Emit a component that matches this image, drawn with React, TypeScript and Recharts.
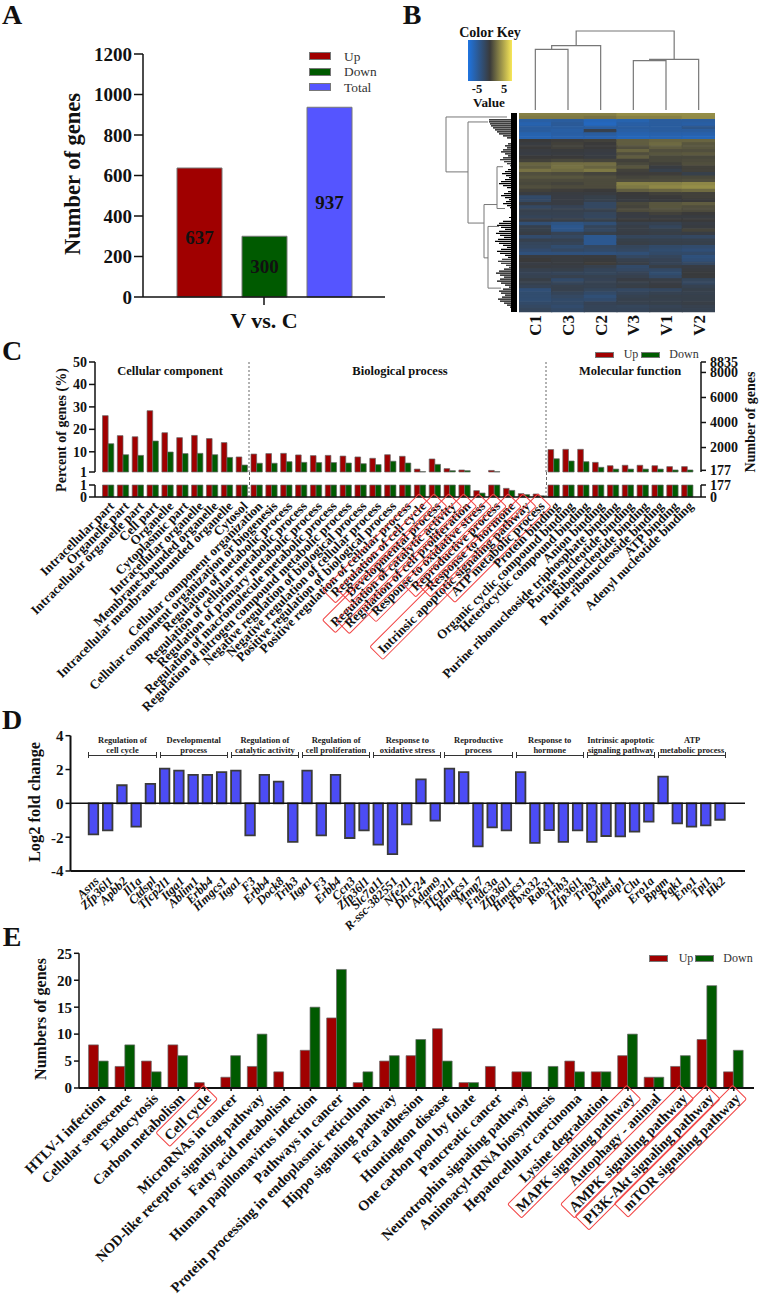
import React from 'react';
import {
  BarChart, Bar, Cell, ComposedChart, LabelList, LineChart, Line, XAxis, YAxis, ReferenceLine,
} from 'recharts';

const SERIF = '"Liberation Serif", "Times New Roman", serif';
const RED = '#a00000';
const GREEN = '#005a00';
const BLUE = '#5555ff';
const INK = '#111';

// Panel A
const summaryNames = ['V vs. C'];
const summaryUp = [637];
const summaryDown = [300];
const summaryTotal = [937];
const summaryTicks = [0, 200, 400, 600, 800, 1000, 1200];

// Panel B
const sampleNames = ['C1', 'C3', 'C2', 'V3', 'V1', 'V2'];
const heatValues = [
  [2, 2, 2, 2.4, 2.4, 2.4], [1.8, 1.8, 1.6, 2, 2, 2.3],
  [-3.2, -3, -3.8, -3.5, -3, -3], [-3.5, -2.8, -4, -3.2, -3, -3.2],
  [-3, -3, -3, -3, -3, -2.4], [-3, -3.2, -0.6, -3.2, -3, -3],
  [-3.5, -3.2, -3, -3.5, -3.4, -3.4], [-3.6, -3.4, -3.4, -3.8, -3.6, -3.8],
  [0, 0.1, 0.2, 1, 1.2, 1.2], [-0.2, 0.2, 0, 1, 1.4, 0.8],
  [0, 0.2, 0, 0.6, 1, 0.8], [-0.2, -0.1, -0.2, 1.2, 0.6, 0.6],
  [-0.3, -0.2, -0.3, 0.6, 0.8, 0.9], [0, 0, -0.2, 1, 0.4, 0.4],
  [0.2, 0.4, 0.3, 0.2, 0.4, 0.5], [1.2, 1.5, 1.5, 0.4, 0.2, 0.6],
  [1, 1.6, 1.2, 0.8, -0.2, 0.2], [1.6, 1.4, 1.8, 0.2, -0.5, 0.2],
  [0.6, 0.5, 0.3, 0.1, 0.1, -0.5], [0.8, 0.8, 0.6, 0.3, 0.4, 0.4],
  [0.5, 0.5, 0.5, 0.5, 0.5, 0.6], [0.4, 0.3, 0.5, 2, 2, 2.2],
  [0.6, 0.5, 0.5, 1.8, 2.2, 2.4], [0.2, 0.1, 0, 1, 1.2, 1.4],
  [-0.2, -0.2, -0.2, 0, 0.2, 0.2], [-1.4, -0.3, -0.5, -0.1, 0, 0.2],
  [-1.2, -0.3, -0.6, -0.2, -0.1, 0], [-0.3, -0.3, -1.2, 0.4, 0.8, 1],
  [-1.2, -0.8, -1.2, 0.3, 0.8, 0.6], [-0.6, -0.6, -0.6, 0.5, 0.6, 0.5],
  [-0.7, -0.7, -1, -0.2, 0.2, 0], [-0.9, -0.8, -1.1, -0.3, -0.2, -0.2],
  [-0.3, -0.4, -0.5, 0, 0, 0], [-1.8, -2.2, -1.8, -0.6, -0.7, -0.3],
  [-0.6, -2.5, -1, -0.4, -1, -0.2], [-0.5, -2.3, -1.2, -0.4, -0.5, 0.3],
  [-0.3, -0.8, -0.5, -0.3, -0.4, -0.3], [-1.5, -1.2, -2.6, -1, -1, -1.2],
  [-0.6, -0.7, -2.6, -0.5, -0.6, -0.6], [-1, -0.9, -2.6, -0.4, -0.5, -0.5],
  [-1.1, -1.6, -1.2, -1, -1.4, -1.5], [-1.5, -1.2, -1.4, -1.2, -1.6, -1.8],
  [-2, -2, -2, -1.8, -1.4, -1.4], [-0.2, -0.2, -0.2, -1.2, -1, -2],
  [0, -0.2, -0.1, -0.6, -0.8, -1.8], [-0.3, -0.2, 0.1, -0.4, -0.8, -1.2],
  [-0.2, -0.3, -0.6, -1.4, -0.4, -0.3], [-0.6, -0.5, -0.9, -1.2, -1.3, -0.2],
  [-0.8, -0.9, -1, -0.8, -1.6, -0.1], [-0.7, -0.6, -0.7, -0.6, -1.3, -0.1],
  [-0.4, -1.4, -0.8, -0.3, -0.4, -1], [-0.6, -0.9, -0.7, -0.5, -0.3, -1.1],
  [-0.8, -0.6, -0.7, -0.4, -0.2, -0.7], [-1.8, -0.6, -1, -1.2, -1.1, -0.5],
  [-1.6, -0.9, -1.4, -0.9, -0.7, -0.6], [-1.6, -1.2, -1.8, -0.7, -0.5, -0.5],
  [-1.7, -1.4, -1.5, -0.6, -0.6, -0.5], [-1.4, -1.3, -0.8, -0.6, -0.5, -0.4],
  [-1.2, -1.5, -0.9, -1, -0.8, -0.6], [-1, -1.3, -0.9, -0.9, -0.7, -0.7],
];
const columnTree = [
  [{ x: 0.5, h: 0 }, { x: 0.5, h: 60.6 }, { x: 1.5, h: 60.6 }, { x: 1.5, h: 0 }],
  [{ x: 1, h: 60.6 }, { x: 1, h: 64.3 }, { x: 2.5, h: 64.3 }, { x: 2.5, h: 0 }],
  [{ x: 3.5, h: 0 }, { x: 3.5, h: 49.3 }, { x: 4.5, h: 49.3 }, { x: 4.5, h: 0 }],
  [{ x: 4, h: 49.3 }, { x: 4, h: 50.6 }, { x: 5.5, h: 50.6 }, { x: 5.5, h: 0 }],
  [{ x: 1.75, h: 64.3 }, { x: 1.75, h: 79 }, { x: 4.75, h: 79 }, { x: 4.75, h: 50.6 }],
];
const rowTree = [
  [{ h: 10, r: 2 }, { h: 71, r: 2 }, { h: 71, r: 29.6 }, { h: 49, r: 29.6 }],
  [{ h: 29, r: 4.5 }, { h: 49, r: 4.5 }, { h: 49, r: 55.3 }, { h: 33, r: 55.3 }],
  [{ h: 20, r: 46 }, { h: 33, r: 46 }, { h: 33, r: 72.8 }, { h: 29, r: 72.8 }],
  [{ h: 14, r: 27 }, { h: 20, r: 27 }, { h: 20, r: 48 }, { h: 12, r: 48 }],
  [{ h: 18, r: 57 }, { h: 29, r: 57 }, { h: 29, r: 88 }, { h: 16, r: 88 }],
];
const rowTipDepth = [
  5, 5, 6, 28, 28, 27, 26, 24, 22, 20, 18, 14, 10, 6,
  6, 9, 12, 10, 14, 16, 12, 9, 14, 17, 13, 10, 7, 5, 9, 12, 15, 11, 8, 12, 16, 18, 14, 10, 6, 9,
  13, 16, 12, 8, 11, 14, 10, 7, 5, 6, 5, 4, 8, 6,
  14, 18, 20, 16, 12, 18, 21, 17, 13, 19, 22, 18, 14, 10, 16, 20, 17, 12, 9, 15, 19, 16, 11, 8,
  13, 18, 21, 17, 13, 17, 20, 16, 12, 8, 14, 18, 16, 12, 15, 19, 17, 13, 10, 7, 5, 4,
];

// Panel C
const goTerms = [
  'Intracellular part', 'Organelle part', 'Intracellular organelle part', 'Cell part', 'Organelle',
  'Cytoplasmic part', 'Intracellular organelle', 'Membrane-bounded organelle',
  'Intracellular membrane-bounded organelle', 'Cytosol',
  'Cellular component organization', 'Cellular component organization or biogenesis',
  'Regulation of metabolic process', 'Regulation of cellular metabolic process',
  'Regulation of primary metabolic process', 'Regulation of macromolecule metabolic process',
  'Regulation of nitrogen compound metabolic process', 'Negative regulation of biological process',
  'Negative regulation of cellular process', 'Positive regulation of biological process',
  'Positive regulation of cellular process', 'Regulation of cell cycle', 'Developmental process',
  'Regulation of catalytic activity', 'Regulation of cell proliferation', 'Response to oxidative stress',
  'Reproductive process', 'Response to hormone', 'Intrinsic apoptotic signaling pathway',
  'ATP metabolic process', 'Protein binding', 'Organic cyclic compound binding',
  'Heterocyclic compound binding', 'Anion binding', 'Purine ribonucleoside triphosphate binding',
  'Purine nucleotide binding', 'Ribonucleotide binding', 'Purine ribonucleoside binding',
  'ATP binding', 'Adenyl nucleotide binding',
];
const goUp = [
  26.1, 17.2, 16.7, 28.3, 18.5, 16.3, 17.3, 15.9, 14.1, 7.7,
  9, 9.2, 9.3, 8.6, 8.3, 8.4, 8.1, 7.7, 7.1, 8.7, 8, 2.3, 6.8, 2.5, 1.9, 0.53, 1.7, 0.72, 0.28, 0.25,
  11, 11.1, 11.1, 5.3, 3.8, 4, 4, 3.8, 3.4, 3.4,
];
const goDown = [
  13.6, 8.7, 8.4, 14.8, 9.9, 9.2, 9.3, 8.7, 7.5, 4.1,
  4.9, 4.9, 5.6, 5.3, 5.2, 5.2, 5, 4.7, 4.3, 5.8, 5, 1.15, 4.4, 1.6, 1.6, 0.33, 1.15, 0.55, 0.2, 0.1,
  6.9, 5.9, 5.6, 3.1, 2.3, 2.3, 2.3, 2.3, 1.9, 1.9,
];
const goBoxed = goTerms.slice(21, 30);
const percentTicksHigh = [1, 10, 20, 30, 40, 50];
const countTicksHigh = [177, 2000, 4000, 6000, 8000, 8835];
const GENES_PER_PERCENT = 176.7;

// Panel D
const geneNames = [
  'Asns', 'Zfp36l1', 'Apbb2', 'Il1a', 'Ctdspl',
  'Tfcp2l1', 'Itga1', 'Ablim1', 'Erbb4', 'Hmgcs1',
  'Itga1', 'F3', 'Erbb4', 'Dock8', 'Trib3',
  'Itga1', 'F3', 'Erbb4', 'Ccn3', 'Zfp36l1',
  'Slc7a11', 'R-ssc-382551', 'Nfe2l1', 'Dhcr24', 'Adam9',
  'Tfcp2l1', 'Hmgcs1', 'Mmp7', 'Fndc3a', 'Zfp36l1',
  'Hmgcs1', 'Fbxo32', 'Rab31', 'Trib3', 'Zfp36l1',
  'Trib3', 'Ddit4', 'Pmaip1', 'Clu', 'Ero1a',
  'Bpgm', 'Pgk1', 'Eno1', 'Tpi1', 'Hk2',
];
const geneFold = [
  -1.83, -1.6, 1.07, -1.38, 1.15,
  2.05, 1.93, 1.68, 1.68, 1.85,
  1.93, -1.89, 1.68, 1.28, -2.28,
  1.93, -1.89, 1.68, -2.05, -1.6,
  -2.44, -3, -1.24, 1.42, -1.02,
  2.05, 1.85, -2.54, -1.42, -1.6,
  1.85, -2.34, -1.58, -2.28, -1.6,
  -2.28, -1.93, -1.95, -1.67, -1.08,
  1.58, -1.18, -1.38, -1.3, -0.97,
];
const geneGroups = [
  ['Regulation of', 'cell cycle'], ['Developmental', 'process'], ['Regulation of', 'catalytic activity'],
  ['Regulation of', 'cell proliferation'], ['Response to', 'oxidative stress'], ['Reproductive', 'process'],
  ['Response to', 'hormone'], ['Intrinsic apoptotic', 'signaling pathway'], ['ATP', 'metabolic process'],
];
const foldTicks = [-4, -2, 0, 2, 4];

// Panel E
const pathwayNames = [
  'HTLV-I infection', 'Cellular senescence', 'Endocytosis', 'Carbon metabolism', 'Cell cycle',
  'MicroRNAs in cancer', 'NOD-like receptor signaling pathway', 'Fatty acid metabolism',
  'Human papillomavirus infection', 'Pathways in cancer', 'Protein processing in endoplasmic reticulum',
  'Hippo signaling pathway', 'Focal adhesion', 'Huntington disease', 'One carbon pool by folate',
  'Pancreatic cancer', 'Neurotrophin signaling pathway', 'Aminoacyl-tRNA biosynthesis',
  'Hepatocellular carcinoma', 'Lysine degradation', 'MAPK signaling pathway', 'Autophagy - animal',
  'AMPK signaling pathway', 'PI3K-Akt signaling pathway', 'mTOR signaling pathway',
];
const pathwayUp = [8, 4, 5, 8, 1, 2, 4, 3, 7, 13, 1, 5, 6, 11, 1, 4, 3, 0, 5, 3, 6, 2, 4, 9, 3];
const pathwayDown = [5, 8, 3, 6, 0, 6, 10, 0, 15, 22, 3, 6, 9, 5, 1, 0, 3, 4, 3, 3, 10, 2, 6, 19, 7];
const pathwayBoxed = ['Cell cycle', 'MAPK signaling pathway', 'AMPK signaling pathway', 'PI3K-Akt signaling pathway', 'mTOR signaling pathway'];
const pathwayTicks = [0, 5, 10, 15, 20, 25];

const summaryTable = summaryNames.map((name, i) => ({ name, up: summaryUp[i], down: summaryDown[i], total: summaryTotal[i] }));
const heatTable = heatValues.map((_, row) => ({ row, C1: 1, C3: 1, C2: 1, V3: 1, V1: 1, V2: 1 }));
const rowComb = rowTipDepth.flatMap((depth, i) => [{ h: 0, r: i + 0.5 }, { h: depth, r: i + 0.5 }, { h: 0, r: i + 0.5 }]);
// the hidden count line only ties the right axis to the same bars
const goHigh = goTerms.map((term, i) => ({
  term, up: goUp[i] >= 1 ? goUp[i] : null, down: goDown[i] >= 1 ? goDown[i] : null, count: goUp[i] * GENES_PER_PERCENT,
}));
const goLow = goTerms.map((term, i) => ({
  term, up: Math.min(goUp[i], 1), down: Math.min(goDown[i], 1), count: Math.min(goUp[i] * GENES_PER_PERCENT, 177),
}));
const geneTable = geneNames.map((gene, i) => ({ idx: i, gene, fold: geneFold[i] }));
const pathwayTable = pathwayNames.map((name, i) => ({ name, up: pathwayUp[i], down: pathwayDown[i] }));

function mix(a: number[], b: number[], t: number) {
  const c = a.map((v, i) => Math.round(v + (b[i] - v) * t));
  return `rgb(${c[0]},${c[1]},${c[2]})`;
}
function heatColor(v: number) {
  const mid = [58, 58, 58];
  return v < 0 ? mix(mid, [31, 116, 224], Math.min(-v / 5, 1)) : mix(mid, [248, 232, 88], Math.min(v / 5, 1));
}

const measureCanvas = document.createElement('canvas').getContext('2d');
function textWidth(text: string, font: string) {
  if (!measureCanvas) return text.length * 6;
  measureCanvas.font = font;
  return measureCanvas.measureText(text).width;
}

const AngledTick = ({ x, y, label, size, italic, boxed, dx = 4, dy = 5 }: any) => {
  const w = textWidth(label, `${italic ? 'italic ' : ''}bold ${size}px "Liberation Serif"`);
  return (
    <g transform={`translate(${x + dx},${y + dy}) rotate(-45)`}>
      {boxed && (
        <rect x={-w - 4} y={-size * 0.5 - 4} width={w + 8} height={size + 5} rx={1.5} fill="none" stroke="#f24545" strokeWidth={1} />
      )}
      <text textAnchor="end" dy={size * 0.32} fontFamily={SERIF} fontSize={size} fontWeight="bold" fontStyle={italic ? 'italic' : 'normal'} fill={INK}>
        {label}
      </text>
    </g>
  );
};

const SampleTick = ({ x, y, payload }: any) => (
  <g transform={`translate(${x + 6},${y + 3}) rotate(-90)`}>
    <text textAnchor="end" fontFamily={SERIF} fontSize={17} fontWeight="bold" fill={INK}>
      {sampleNames[Math.floor(payload.value)]}
    </text>
  </g>
);

const Txt = ({ x, y, size, bold, italic, rotate = 0, color = INK, children }: any) => (
  <div
    style={{
      position: 'absolute', left: x, top: y, fontSize: size, lineHeight: 1.15, color, whiteSpace: 'nowrap',
      fontWeight: bold ? 'bold' : 'normal', fontStyle: italic ? 'italic' : 'normal',
      transform: `translate(-50%,-50%) rotate(${rotate}deg)`,
    }}
  >
    {children}
  </div>
);

const Key = ({ x, y, w, h, color }: any) => (
  <div style={{ position: 'absolute', left: x, top: y, width: w, height: h, background: color, border: '1px solid #777', boxSizing: 'border-box' }} />
);

const Box = ({ left, top, children }: any) => <div style={{ position: 'absolute', left, top }}>{children}</div>;

const axisLine = { stroke: INK, strokeWidth: 1.5 };
const tickFont = (size: number) => ({ fontSize: size, fontWeight: 'bold', fontFamily: SERIF, fill: INK });

export default function App() {
  return (
    <div style={{ position: 'absolute', left: 0, top: 0, width: 759, height: 1295, background: '#fff', fontFamily: SERIF, overflow: 'hidden' }}>
      <Txt x={12} y={15} size={28} bold>A</Txt>
      <Txt x={412} y={15} size={28} bold>B</Txt>
      <Txt x={12} y={351} size={28} bold>C</Txt>
      <Txt x={12} y={720} size={28} bold>D</Txt>
      <Txt x={12} y={937} size={28} bold>E</Txt>

      {/* A: gene counts */}
      <Box left={0} top={0}>
        <BarChart width={390} height={335} data={summaryTable} margin={{ top: 54, right: 5, bottom: 0, left: 0 }} barSize={45} barGap={20}>
          <XAxis dataKey="name" height={38} axisLine={axisLine} tickLine={axisLine} tickSize={8} tick={{ ...tickFont(22), dy: 5 }} />
          <YAxis width={143} domain={[0, 1200]} ticks={summaryTicks} interval={0} axisLine={axisLine} tickLine={axisLine} tickSize={9} tickMargin={2} tick={tickFont(19)} />
          <Bar dataKey="up" fill={RED} stroke="#777" strokeWidth={1} isAnimationActive={false}>
            <LabelList dataKey="up" position="center" dy={5} fill={INK} fontFamily={SERIF} fontSize={19} fontWeight="bold" />
          </Bar>
          <Bar dataKey="down" fill={GREEN} stroke="#777" strokeWidth={1} isAnimationActive={false}>
            <LabelList dataKey="down" position="center" fill={INK} fontFamily={SERIF} fontSize={19} fontWeight="bold" />
          </Bar>
          <Bar dataKey="total" fill={BLUE} stroke="#777" strokeWidth={1} isAnimationActive={false}>
            <LabelList dataKey="total" position="center" fill={INK} fontFamily={SERIF} fontSize={19} fontWeight="bold" />
          </Bar>
        </BarChart>
      </Box>
      <Txt x={73} y={174} size={22.5} bold rotate={-90}>Number of genes</Txt>
      <Key x={309} y={52} w={22} h={8} color={RED} />
      <Key x={309} y={68} w={22} h={8} color={GREEN} />
      <Key x={309} y={83} w={22} h={8} color={BLUE} />
      <div style={{ position: 'absolute', left: 344, top: 49, fontSize: 13.4, lineHeight: '15.3px', color: '#333' }}>Up<br />Down<br />Total</div>

      {/* B: colour key, dendrograms, heat map */}
      <Txt x={490} y={33} size={14} bold>Color Key</Txt>
      <div style={{ position: 'absolute', left: 468, top: 40, width: 44, height: 41, background: 'linear-gradient(90deg,#1f74e0,#3a3a3a 50%,#f8e858)' }} />
      <Txt x={477} y={89} size={12.5} bold>-5</Txt>
      <Txt x={504} y={89} size={12.5} bold>5</Txt>
      <Txt x={489} y={103} size={13.2} bold>Value</Txt>

      <Box left={519} top={25}>
        <LineChart width={196} height={85} margin={{ top: 0, right: 0, bottom: 0, left: 0 }}>
          <XAxis type="number" dataKey="x" domain={[0, 6]} hide />
          <YAxis type="number" domain={[0, 85]} hide />
          {columnTree.map((seg, i) => (
            <Line key={i} data={seg} dataKey="h" stroke="#777" strokeWidth={1.2} dot={false} isAnimationActive={false} />
          ))}
        </LineChart>
      </Box>
      <Box left={445} top={113}>
        <LineChart width={72} height={199} margin={{ top: 0, right: 0, bottom: 0, left: 0 }}>
          <XAxis type="number" dataKey="h" domain={[0, 72]} reversed hide />
          <YAxis type="number" domain={[0, 100]} reversed hide />
          <Line data={rowComb} dataKey="r" stroke="#000" strokeWidth={1.2} dot={false} isAnimationActive={false} />
          <Line data={[{ h: 3, r: 0 }, { h: 3, r: 100 }]} dataKey="r" stroke="#000" strokeWidth={6} dot={false} isAnimationActive={false} />
          {rowTree.map((seg, i) => (
            <Line key={i} data={seg} dataKey="r" stroke="#777" strokeWidth={1} dot={false} isAnimationActive={false} />
          ))}
        </LineChart>
      </Box>
      <Box left={519} top={113}>
        <BarChart width={196} height={229} layout="vertical" data={heatTable} margin={{ top: 0, right: 0, bottom: 0, left: 0 }} barCategoryGap={0}>
          <XAxis type="number" domain={[0, 6]} ticks={[0.5, 1.5, 2.5, 3.5, 4.5, 5.5]} height={30} axisLine={false} tickLine={false} tickSize={0} tickMargin={0} tick={(p: any) => <SampleTick {...p} />} interval={0} />
          <YAxis type="category" dataKey="row" hide />
          {sampleNames.map((sample, col) => (
            <Bar key={sample} dataKey={sample} stackId="heat" isAnimationActive={false}>
              {heatValues.map((row, i) => (
                <Cell key={i} fill={heatColor(row[col])} stroke={heatColor(row[col])} strokeWidth={1.2} />
              ))}
            </Bar>
          ))}
        </BarChart>
      </Box>

      {/* C: GO terms, broken axis */}
      <Box left={0} top={340}>
        <ComposedChart width={759} height={150} data={goHigh} margin={{ top: 22, right: 0, bottom: 18, left: 0 }} barSize={5.65} barGap={0}>
          <XAxis dataKey="term" hide padding={{ left: 5.5, right: 6.5 }} />
          <YAxis yAxisId="left" width={95} domain={[1, 50]} ticks={percentTicksHigh} interval={0} axisLine={axisLine} tickLine={axisLine} tickSize={6} tickMargin={2} tick={tickFont(14)} />
          <YAxis yAxisId="right" orientation="right" width={58} domain={[177, 8835]} ticks={countTicksHigh} interval={0} axisLine={axisLine} tickLine={axisLine} tickSize={5} tickMargin={4} tick={tickFont(14)} />
          <Bar yAxisId="left" dataKey="up" fill={RED} stroke="#666" strokeWidth={0.7} isAnimationActive={false} />
          <Bar yAxisId="left" dataKey="down" fill={GREEN} stroke="#666" strokeWidth={0.7} isAnimationActive={false} />
          <Line yAxisId="right" dataKey="count" stroke="none" dot={false} activeDot={false} isAnimationActive={false} />
          <ReferenceLine yAxisId="left" x={goTerms[9]} position="end" stroke="#666" strokeDasharray="2 2" />
          <ReferenceLine yAxisId="left" x={goTerms[29]} position="end" stroke="#666" strokeDasharray="2 2" />
        </ComposedChart>
      </Box>
      <div style={{ position: 'absolute', left: 248.5, top: 472, height: 13, borderLeft: '1px dashed #666' }} />
      <div style={{ position: 'absolute', left: 545.5, top: 472, height: 13, borderLeft: '1px dashed #666' }} />
      <Box left={0} top={470}>
        <ComposedChart width={759} height={260} data={goLow} margin={{ top: 15, right: 0, bottom: 0, left: 0 }} barSize={5.65} barGap={0}>
          <XAxis
            dataKey="term" height={233} interval={0} padding={{ left: 5.5, right: 6.5 }} axisLine={axisLine} tickLine={false} tickSize={0}
            tick={(p: any) => <AngledTick {...p} label={p.payload.value} size={13.1} boxed={goBoxed.includes(p.payload.value)} />}
          />
          <YAxis yAxisId="left" width={95} domain={[0, 1]} ticks={[0, 1]} interval={0} axisLine={axisLine} tickLine={axisLine} tickSize={6} tickMargin={2} tick={tickFont(14)} />
          <YAxis yAxisId="right" orientation="right" width={58} domain={[0, 177]} ticks={[0, 177]} interval={0} axisLine={axisLine} tickLine={axisLine} tickSize={5} tickMargin={4} tick={tickFont(14)} />
          <Bar yAxisId="left" dataKey="up" fill={RED} stroke="#666" strokeWidth={0.7} isAnimationActive={false} />
          <Bar yAxisId="left" dataKey="down" fill={GREEN} stroke="#666" strokeWidth={0.7} isAnimationActive={false} />
          <Line yAxisId="right" dataKey="count" stroke="none" dot={false} activeDot={false} isAnimationActive={false} />
          <ReferenceLine yAxisId="left" x={goTerms[9]} position="end" stroke="#666" strokeDasharray="2 2" />
          <ReferenceLine yAxisId="left" x={goTerms[29]} position="end" stroke="#666" strokeDasharray="2 2" />
        </ComposedChart>
      </Box>
      <Txt x={62} y={430} size={14} bold rotate={-90}>Percent of genes (%)</Txt>
      <Txt x={751} y={422} size={14} bold rotate={-90}>Number of genes</Txt>
      <Txt x={170} y={371} size={12.5} bold>Cellular component</Txt>
      <Txt x={400} y={371} size={12.5} bold>Biological process</Txt>
      <Txt x={630} y={371} size={12.5} bold>Molecular function</Txt>
      <Key x={595} y={352} w={19} h={6} color={RED} />
      <Txt x={631} y={355} size={12} color="#333">Up</Txt>
      <Key x={641} y={352} w={19} h={6} color={GREEN} />
      <Txt x={684} y={355} size={12} color="#333">Down</Txt>

      {/* D: fold change per gene */}
      <Box left={0} top={715}>
        <BarChart width={759} height={226} data={geneTable} margin={{ top: 20.7, right: 14, bottom: 0, left: 0 }} barSize={9.5}>
          <XAxis
            dataKey="idx" height={70} interval={0} padding={{ left: 16.2, right: 17.5 }} axisLine={{ stroke: INK, strokeWidth: 2 }} tickLine={false} tickSize={0}
            tick={(p: any) => <AngledTick {...p} label={geneNames[p.payload.value]} size={12.5} italic dx={3} dy={6} />}
          />
          <YAxis width={70.5} domain={[-4, 4]} ticks={foldTicks} interval={0} axisLine={{ stroke: INK, strokeWidth: 2 }} tickLine={axisLine} tickSize={5} tickMargin={2} tick={tickFont(15)} />
          <ReferenceLine y={0} stroke={INK} strokeWidth={1.5} />
          <Bar dataKey="fold" fill="#4c4cf5" stroke="#3a3a3a" strokeWidth={1.8} isAnimationActive={false} />
        </BarChart>
      </Box>
      <Txt x={35} y={802} size={16.4} bold rotate={-90}>Log2 fold change</Txt>
      {geneGroups.map((lines, g) => {
        const left = 88.4 + g * 71.2;
        const right = left + 68.2;
        return (
          <React.Fragment key={g}>
            <Txt x={(left + right) / 2} y={740.5} size={8.5} bold color="#222">{lines[0]}</Txt>
            <Txt x={(left + right) / 2} y={750.5} size={8.5} bold color="#222">{lines[1]}</Txt>
            <div style={{ position: 'absolute', left, top: 752, width: right - left, height: 6, boxSizing: 'border-box', borderLeft: '1px solid #333', borderRight: '1px solid #333', background: 'linear-gradient(#333,#333) 0 3px/100% 1px no-repeat' }} />
          </React.Fragment>
        );
      })}

      {/* E: KEGG pathways */}
      <Box left={0} top={945}>
        <BarChart width={759} height={350} data={pathwayTable} margin={{ top: 8.3, right: 5, bottom: 0, left: 0 }} barSize={9.8} barGap={0}>
          <XAxis
            dataKey="name" height={207} interval={0} padding={{ left: 6.6, right: 7 }} axisLine={{ stroke: INK, strokeWidth: 2 }} tickLine={axisLine} tickSize={3}
            tick={(p: any) => <AngledTick {...p} label={p.payload.value} size={14.5} boxed={pathwayBoxed.includes(p.payload.value)} dx={4} dy={3} />}
          />
          <YAxis width={79} domain={[0, 25]} ticks={pathwayTicks} interval={0} axisLine={axisLine} tickLine={axisLine} tickSize={5} tickMargin={2} tick={tickFont(15)} />
          <Bar dataKey="up" fill={RED} stroke="#666" strokeWidth={0.7} isAnimationActive={false} />
          <Bar dataKey="down" fill={GREEN} stroke="#666" strokeWidth={0.7} isAnimationActive={false} />
        </BarChart>
      </Box>
      <Txt x={41} y={1019} size={16} bold rotate={-90}>Numbers of genes</Txt>
      <Key x={649} y={955} w={19} h={7} color={RED} />
      <Txt x={686} y={959} size={12} color="#333">Up</Txt>
      <Key x={695} y={955} w={19} h={7} color={GREEN} />
      <Txt x={738} y={959} size={12} color="#333">Down</Txt>
    </div>
  );
}
